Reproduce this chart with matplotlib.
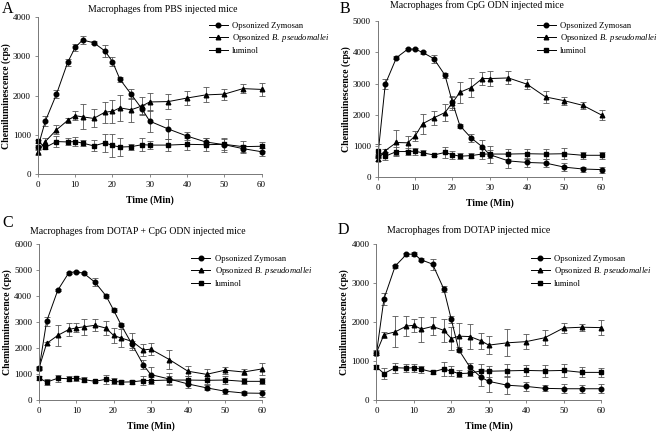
import matplotlib
matplotlib.use('Agg')
import matplotlib.pyplot as plt
from matplotlib.lines import Line2D

plt.rcParams['font.family'] = 'Liberation Serif'
plt.rcParams['mathtext.fontset'] = 'custom'
plt.rcParams['mathtext.rm'] = 'Liberation Serif'
plt.rcParams['mathtext.it'] = 'Liberation Serif:italic'

# Tiempos de muestreo (min)
tiempo = [0, 2, 5, 8, 10, 12, 15, 18, 20, 22, 25, 28, 30, 35, 40, 45, 50, 55, 60]

# Panel A - PBS
zym_a = [680, 1350, 2040, 2850, 3230, 3420, 3350, 3140, 2870, 2420, 2040, 1650, 1350, 1150, 970, 820, 750, 650, 570]
zym_a_err = [60, 130, 110, 80, 80, 90, 40, 160, 110, 60, 130, 110, 280, 250, 110, 90, 180, 100, 100]
bp_a = [560, 830, 1130, 1370, 1490, 1460, 1420, 1580, 1600, 1690, 1640, 1740, 1840, 1850, 1940, 2020, 2040, 2180, 2160]
bp_a_err = [80, 100, 120, 60, 110, 320, 230, 270, 290, 340, 300, 220, 240, 200, 190, 190, 140, 110, 170]
lum_a = [840, 680, 830, 820, 830, 790, 720, 800, 730, 690, 700, 750, 740, 740, 760, 750, 760, 700, 710]
lum_a_err = [40, 50, 140, 90, 110, 80, 140, 230, 300, 230, 80, 170, 100, 150, 150, 160, 140, 140, 110]

# Panel B - CpG ODN
zym_b = [670, 2980, 3830, 4100, 4100, 4000, 3800, 3270, 2400, 1650, 1260, 970, 720, 520, 470, 450, 320, 260, 240]
zym_b_err = [60, 170, 40, 40, 40, 40, 130, 80, 180, 60, 120, 220, 280, 230, 150, 140, 120, 80, 100]
bp_b = [570, 850, 1110, 1100, 1320, 1710, 1900, 2070, 2380, 2720, 2870, 3160, 3160, 3180, 2980, 2570, 2450, 2300, 1990]
bp_b_err = [60, 50, 400, 230, 170, 320, 230, 280, 230, 330, 300, 200, 230, 210, 170, 180, 130, 100, 160]
lum_b = [830, 670, 820, 820, 830, 780, 710, 790, 720, 670, 690, 740, 740, 740, 750, 740, 750, 700, 700]
lum_b_err = [230, 130, 130, 110, 110, 80, 40, 190, 130, 90, 90, 160, 130, 150, 160, 160, 170, 120, 110]

# Panel C - DOTAP + CpG ODN
zym_c = [1230, 3030, 4230, 4910, 4940, 4880, 4540, 4010, 3470, 2900, 2140, 1360, 980, 810, 620, 470, 340, 270, 260]
zym_c_err = [60, 170, 40, 40, 40, 40, 150, 80, 80, 60, 120, 170, 290, 230, 150, 90, 100, 60, 130]
bp_c = [1250, 2180, 2490, 2720, 2780, 2820, 2880, 2770, 2490, 2390, 2260, 1930, 1960, 1560, 1110, 990, 1150, 1080, 1200]
bp_c_err = [60, 60, 400, 250, 170, 320, 230, 280, 300, 330, 330, 220, 230, 350, 200, 200, 130, 110, 220]
lum_c = [850, 690, 840, 820, 840, 790, 720, 800, 730, 690, 700, 750, 750, 770, 770, 760, 770, 720, 720]
lum_c_err = [60, 130, 130, 100, 100, 80, 40, 180, 130, 80, 80, 180, 130, 170, 140, 160, 160, 110, 110]

# Panel D - DOTAP
zym_d = [1200, 2600, 3440, 3740, 3750, 3600, 3490, 2850, 2070, 1290, 840, 580, 480, 380, 350, 300, 290, 290, 290]
zym_d_err = [50, 160, 40, 40, 40, 40, 140, 80, 80, 60, 120, 210, 280, 230, 120, 80, 120, 100, 110]
bp_d = [1220, 1680, 1750, 1900, 1920, 1820, 1890, 1790, 1580, 1640, 1630, 1520, 1410, 1470, 1500, 1600, 1850, 1870, 1860]
bp_d_err = [60, 80, 400, 250, 170, 320, 230, 290, 300, 330, 330, 200, 240, 350, 200, 190, 130, 90, 200]
lum_d = [850, 680, 830, 820, 830, 790, 720, 800, 740, 680, 690, 750, 740, 750, 760, 750, 760, 710, 710]
lum_d_err = [60, 130, 130, 100, 100, 90, 40, 180, 130, 80, 80, 170, 140, 170, 150, 160, 170, 130, 110]

etiquetas = ['Opsonized Zymosan', 'Opsonized $\\mathit{B.\\ pseudomallei}$', 'luminol']
marcadores = ['o', '^', 's']

# (letra, posicion letra, titulo, posicion titulo, ejes, ymax, series, leyenda)
paneles = [
    ('A', (0.003, 0.997), 'Macrophages from PBS injected mice', (0.2455, 0.979),
     [0.057, 0.597, 0.337, 0.363], 4000,
     [(zym_a, zym_a_err), (bp_a, bp_a_err), (lum_a, lum_a_err)], (0.309, 0.958)),
    ('B', (0.511, 0.997), 'Macrophages from CpG ODN injected mice', (0.718, 0.988),
     [0.569, 0.590, 0.337, 0.361], 5000,
     [(zym_b, zym_b_err), (bp_b, bp_b_err), (lum_b, lum_b_err)], (0.803, 0.958)),
    ('C', (0.003, 0.503), 'Macrophages from DOTAP + CpG ODN injected mice', (0.208, 0.465),
     [0.059, 0.074, 0.336, 0.3605], 6000,
     [(zym_c, zym_c_err), (bp_c, bp_c_err), (lum_c, lum_c_err)], (0.283, 0.418)),
    ('D', (0.508, 0.485), 'Macrophages from DOTAP injected mice', (0.706, 0.468),
     [0.567, 0.074, 0.338, 0.3605], 4000,
     [(zym_d, zym_d_err), (bp_d, bp_d_err), (lum_d, lum_d_err)], (0.794, 0.418)),
]

fig = plt.figure(figsize=(6.64, 4.32), dpi=100)

for letra, pos_letra, titulo, pos_titulo, pos, ymax, series, leg_pos in paneles:
    ax = fig.add_axes(pos)
    for (y, err), m in zip(series, marcadores):
        ax.errorbar(tiempo, y, yerr=err, color='black', marker=m, markersize=3.3,
                    linewidth=0.7, elinewidth=0.6, capsize=2, capthick=0.6,
                    ecolor='#555555', clip_on=False)
    ax.set_xlim(0, 60)
    ax.set_ylim(0, ymax)
    ax.set_xticks(range(0, 61, 10))
    ax.set_yticks(range(0, ymax + 1, 1000))
    ax.spines['top'].set_visible(False)
    ax.spines['right'].set_visible(False)
    for s in ['left', 'bottom']:
        ax.spines[s].set_color('#777777')
        ax.spines[s].set_linewidth(0.7)
    ax.tick_params(labelsize=6.5, length=2.5, width=0.6, color='#777777', pad=2.5)
    ax.set_xlabel('Time (Min)', fontsize=7, fontweight='bold')
    ax.set_ylabel('Chemiluminescence (cps)', fontsize=7, fontweight='bold')
    ax.xaxis.set_label_coords(0.5, -0.135)
    ax.yaxis.set_label_coords(-0.122, 0.5)

    hs = [Line2D([], [], color='black', marker=m, markersize=3.3, linewidth=0.7)
          for m in marcadores]
    ax.legend(hs, etiquetas, loc='upper left', bbox_to_anchor=leg_pos,
              bbox_transform=fig.transFigure, frameon=False, fontsize=6.2,
              handlelength=2.2, handletextpad=0.5, labelspacing=0.3, borderaxespad=0)

    fig.text(pos_titulo[0], pos_titulo[1], titulo, fontsize=7, ha='center', va='center')
    fig.text(pos_letra[0], pos_letra[1], letra, fontsize=11.5, va='top', ha='left')

fig.savefig('out.png', dpi=100)
